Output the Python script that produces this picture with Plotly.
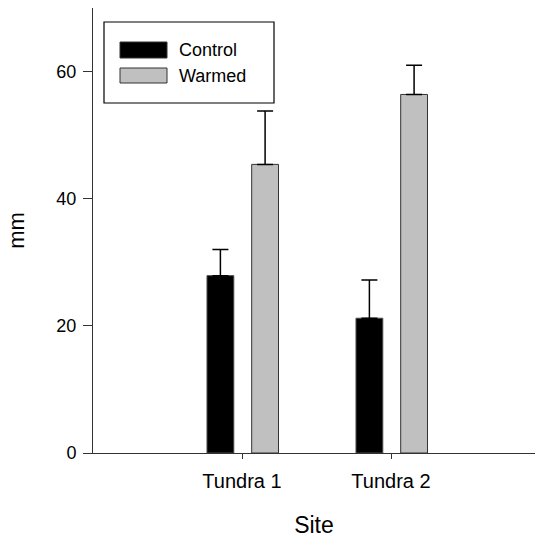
import plotly.graph_objects as go

# Site means and standard errors (mm)
sites = ["Tundra 1", "Tundra 2"]
site_pos = [1, 2]
control_mean = [27.9, 21.2]
control_err = [4.1, 6.0]
warmed_mean = [45.4, 56.4]
warmed_err = [8.4, 4.6]

W, H = 535, 543
L, R, T, B = 93, 0, 8, 90
PW, PH = W - L - R, H - T - B


def px_x(x):
    return (x - L) / PW


def px_y(y):
    return (H - B - y) / PH


fig = go.Figure()

fig.add_trace(go.Bar(
    x=site_pos, y=control_mean, name="Control",
    width=0.18, offset=-0.235,
    marker=dict(color="#000000", line=dict(color="#4a4a4a", width=1)),
    error_y=dict(type="data", array=control_err, arrayminus=[0, 0],
                 symmetric=False, color="#000000", thickness=1.5, width=8),
))
fig.add_trace(go.Bar(
    x=site_pos, y=warmed_mean, name="Warmed",
    width=0.18, offset=0.065,
    marker=dict(color="#c0c0c0", line=dict(color="#333333", width=1)),
    error_y=dict(type="data", array=warmed_err, arrayminus=[0, 0],
                 symmetric=False, color="#000000", thickness=1.5, width=8),
))

font = "Liberation Sans, Arial, sans-serif"

# Legend box drawn in paper space
shapes = [
    dict(type="rect", xref="paper", yref="paper",
         x0=px_x(104), x1=px_x(274), y0=px_y(103), y1=px_y(22),
         line=dict(color="#000000", width=1.2), fillcolor="#ffffff"),
    dict(type="rect", xref="paper", yref="paper",
         x0=px_x(120), x1=px_x(167), y0=px_y(58), y1=px_y(42),
         line=dict(color="#333333", width=1), fillcolor="#000000"),
    dict(type="rect", xref="paper", yref="paper",
         x0=px_x(120), x1=px_x(167), y0=px_y(83), y1=px_y(68),
         line=dict(color="#333333", width=1), fillcolor="#c0c0c0"),
]
annotations = [
    dict(text="Control", xref="paper", yref="paper", x=px_x(177), y=px_y(50),
         xanchor="left", yanchor="middle", showarrow=False,
         font=dict(family=font, size=18, color="#000000")),
    dict(text="Warmed", xref="paper", yref="paper", x=px_x(177), y=px_y(76),
         xanchor="left", yanchor="middle", showarrow=False,
         font=dict(family=font, size=18, color="#000000")),
]

fig.update_layout(
    width=W, height=H,
    margin=dict(l=L, r=R, t=T, b=B, pad=0),
    paper_bgcolor="#ffffff", plot_bgcolor="#ffffff",
    barmode="overlay", showlegend=False,
    font=dict(family=font, color="#000000"),
    shapes=shapes, annotations=annotations,
    xaxis=dict(
        range=[0, PW / 149.0], tickvals=site_pos, ticktext=sites,
        showgrid=False, zeroline=False,
        showline=True, linecolor="#333333", linewidth=1,
        ticks="outside", ticklen=5, tickcolor="#333333", tickwidth=1,
        tickfont=dict(size=20), ticklabelstandoff=5,
        title=dict(text="Site", font=dict(size=23), standoff=25),
    ),
    yaxis=dict(
        range=[0, 70], tickvals=[0, 20, 40, 60],
        showgrid=False, zeroline=False,
        showline=True, linecolor="#333333", linewidth=1,
        ticks="outside", ticklen=9, tickcolor="#333333", tickwidth=1,
        tickfont=dict(size=18), ticklabelstandoff=3,
        title=dict(text="mm", font=dict(size=22), standoff=25),
    ),
)

fig.write_html("out.html")
